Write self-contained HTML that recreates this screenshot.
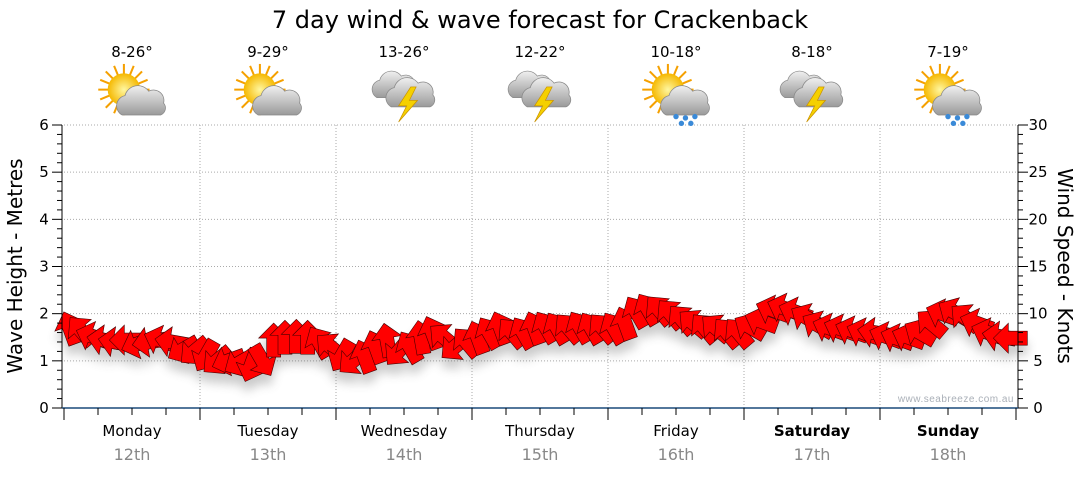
<!DOCTYPE html>
<html><head><meta charset="utf-8"><style>
body{margin:0;background:#fff;width:1080px;height:475px;overflow:hidden;font-family:"DejaVu Sans","Liberation Sans",sans-serif}
</style></head><body>
<svg width="1080" height="475" id="chart" xmlns="http://www.w3.org/2000/svg">
<defs>
<filter id="sh" x="-50%" y="-50%" width="200%" height="200%"><feGaussianBlur stdDeviation="5"/></filter>
<radialGradient id="sunG" cx="50%" cy="50%" r="50%"><stop offset="0" stop-color="#fff7a0"/><stop offset="1" stop-color="#f5b800"/></radialGradient>
<linearGradient id="cloudG" x1="0" y1="0" x2="0" y2="1"><stop offset="0" stop-color="#f0f0f0"/><stop offset="1" stop-color="#9a9a9a"/></linearGradient>
</defs>
<text x="540" y="28" text-anchor="middle" font-size="24" fill="#000">7 day wind &amp; wave forecast for Crackenback</text>
<g id="grid"></g>
<g id="shadow" filter="url(#sh)" opacity="0.3"></g>
<g id="arrows"></g>
<g id="axes"></g>
<g id="icons"></g>
<text x="1014" y="402" text-anchor="end" font-size="10" fill="#aab0b8" font-family="Liberation Sans,sans-serif" letter-spacing="0.5">www.seabreeze.com.au</text>
<text transform="translate(22,266) rotate(-90)" text-anchor="middle" font-size="20">Wave Height - Metres</text>
<text transform="translate(1058,266) rotate(90)" text-anchor="middle" font-size="20">Wind Speed - Knots</text>
</svg>
<script>
const days=["Monday","Tuesday","Wednesday","Thursday","Friday","Saturday","Sunday"];
const dates=["12th","13th","14th","15th","16th","17th","18th"];
const temps=["8-26°","9-29°","13-26°","12-22°","10-18°","8-18°","7-19°"];
const icons=["suncloud","suncloud","storm","storm","sunrain","storm","sunrain"];
const waveTicks=[0,1,2,3,4,5,6];
const windTicks=[0,5,10,15,20,25,30];
const windSpeed=[8.5,8.2,7.6,7.2,7,7.2,6.8,7,7.2,7,6.2,6,
5.5,5,5,4.8,4.5,5,7.2,7.5,7.6,7.5,7,6.5,
5.5,5,5.5,6.5,7.2,6,6.5,7.5,8,7.5,6.5,7,
7.5,8,8.5,8,8,8.5,8.6,8.5,8.5,8.6,8.5,8.5,
8.5,9,10.2,10.5,10.4,10,9.4,9,8.5,8.5,8,8,
8.6,9.2,10.4,10.6,10.2,9.6,8.8,8.5,8.4,8.2,8,8,
7.6,7.4,7.5,8,9,10,10.2,9.6,9,8,7.6,7.4];
const windDir=[250,230,200,190,190,180,160,170,200,190,150,140,
120,140,160,150,110,60,270,270,270,270,240,220,
120,140,250,250,260,130,240,260,250,220,140,230,
250,240,250,230,240,250,240,240,230,240,240,230,
240,250,240,240,230,230,230,220,230,220,230,230,
210,200,200,200,200,210,210,200,200,200,200,190,
200,200,200,210,220,200,210,220,200,200,190,180];
const X0=64,X1=1016,Y0=408,YT=125;
const NS="http://www.w3.org/2000/svg";
const xs=i=>X0+(i+0.5)*(X1-X0)/windSpeed.length;
const yw=m=>Y0-(Y0-YT)*m/6;
const yk=k=>Y0-(Y0-YT)*k/30;
function mk(tag,attrs,parent){const e=document.createElementNS(NS,tag);for(const k in attrs)e.setAttribute(k,attrs[k]);document.getElementById(parent).appendChild(e);return e;}
waveTicks.slice(1).forEach(t=>{const l=mk('line',{x1:X0,x2:X1,y1:yw(t),y2:yw(t),stroke:'#aaa','stroke-dasharray':'1,2'},'grid');

});
for(let d=1;d<7;d++){const x=X0+d*(X1-X0)/7;const l=mk('line',{x1:x,x2:x,y1:YT,y2:Y0,stroke:'#aaa','stroke-dasharray':'1,2'},'grid');

}
const ax=mk('line',{x1:X0-2,x2:X0-2,y1:YT,y2:Y0,stroke:'#000'},'axes');


const ax2=mk('line',{x1:X1+2,x2:X1+2,y1:YT,y2:Y0,stroke:'#000'},'axes');


const bx=mk('line',{x1:X0-2,x2:X1+2,y1:Y0,y2:Y0,stroke:'#1a4a7a','stroke-width':1.5},'axes');


for(let m=0;m<=30;m++){const y=Y0-(Y0-YT)*m/30;const big=m%5==0;
mk('line',{x1:X0-2-(big?10:5),x2:X0-2,y1:y,y2:y,stroke:'#000'},'axes');
mk('line',{x1:X1+2,x2:X1+2+(big?10:5),y1:y,y2:y,stroke:'#000'},'axes');}
waveTicks.forEach(t=>{const e=mk('text',{x:44,y:yw(t)+5,'text-anchor':'middle','font-size':15},'axes');e.textContent=t;

});
windTicks.forEach(t=>{const e=mk('text',{x:1038,y:yk(t)+5,'text-anchor':'middle','font-size':15},'axes');e.textContent=t;

});
for(let q=0;q<=28;q++){const x=X0+q*34;mk('line',{x1:x,x2:x,y1:Y0,y2:Y0+(q%4==0?12:7),stroke:'#000'},'axes');}
days.forEach((d,i)=>{const cx=X0+(i+0.5)*136;
const t=mk('text',{x:cx,y:436,'text-anchor':'middle','font-size':15,'font-weight':i>=5?'bold':'normal'},'axes');t.textContent=d;


const t2=mk('text',{x:cx,y:460,'text-anchor':'middle','font-size':16,fill:'#888'},'axes');t2.textContent=dates[i];


const t3=mk('text',{x:cx,y:57,'text-anchor':'middle','font-size':15},'icons');t3.textContent=temps[i];


const g=mk('g',{transform:`translate(${cx},95) scale(1.35)`},'icons');


let h='';
const cloud=(dx,dy,s)=>`<g transform="translate(${dx},${dy}) scale(${s})"><path d="M-14,8 a7,7 0 0 1 2,-13 a9,9 0 0 1 16,-3 a7,7 0 0 1 10,8 a5,5 0 0 1 -2,8 z" fill="url(#cloudG)" stroke="#888" stroke-width="0.5"/></g>`;
if(icons[i]!='storm'){let r='';for(let a=0;a<360;a+=22.5){r+=`<line x1="0" y1="0" x2="${Math.cos(a*Math.PI/180)*19}" y2="${Math.sin(a*Math.PI/180)*19}" stroke="#f5a000" stroke-width="1.5"/>`;}
h+=`<g transform="translate(-6,-4)">${r}<circle r="12" fill="url(#sunG)"/></g>`+cloud(8,6,1.1);
if(icons[i]=='sunrain')h+=`<g fill="#3a8ad8"><circle cx="0" cy="16" r="2"/><circle cx="7" cy="17" r="2"/><circle cx="14" cy="16" r="2"/><circle cx="4" cy="21" r="2"/><circle cx="11" cy="21" r="2"/></g>`;}
else{h+=cloud(-6,-6,1)+cloud(6,0,1.1)+`<path d="M5,-6 L-4,8 L2,8 L-4,20 L10,4 L4,4 L9,-6z" fill="#f5d000" stroke="#c89000" stroke-width="0.5"/>`;}
g.innerHTML=h;});
windSpeed.forEach((k,i)=>{const x=xs(i),y=yk(k),a=windDir[i];
const p="M17,0 L2,-15 L2,-7 L-17,-7 L-17,7 L2,7 L2,15 Z";
mk('path',{d:p,transform:`translate(${x},${y+10}) rotate(${a})`,fill:'#555'},'shadow');
const e=mk('path',{d:p,transform:`translate(${x},${y}) rotate(${a})`,fill:'#ff0000',stroke:'#400','stroke-width':0.6},'arrows');

});
</script>
</body></html>
